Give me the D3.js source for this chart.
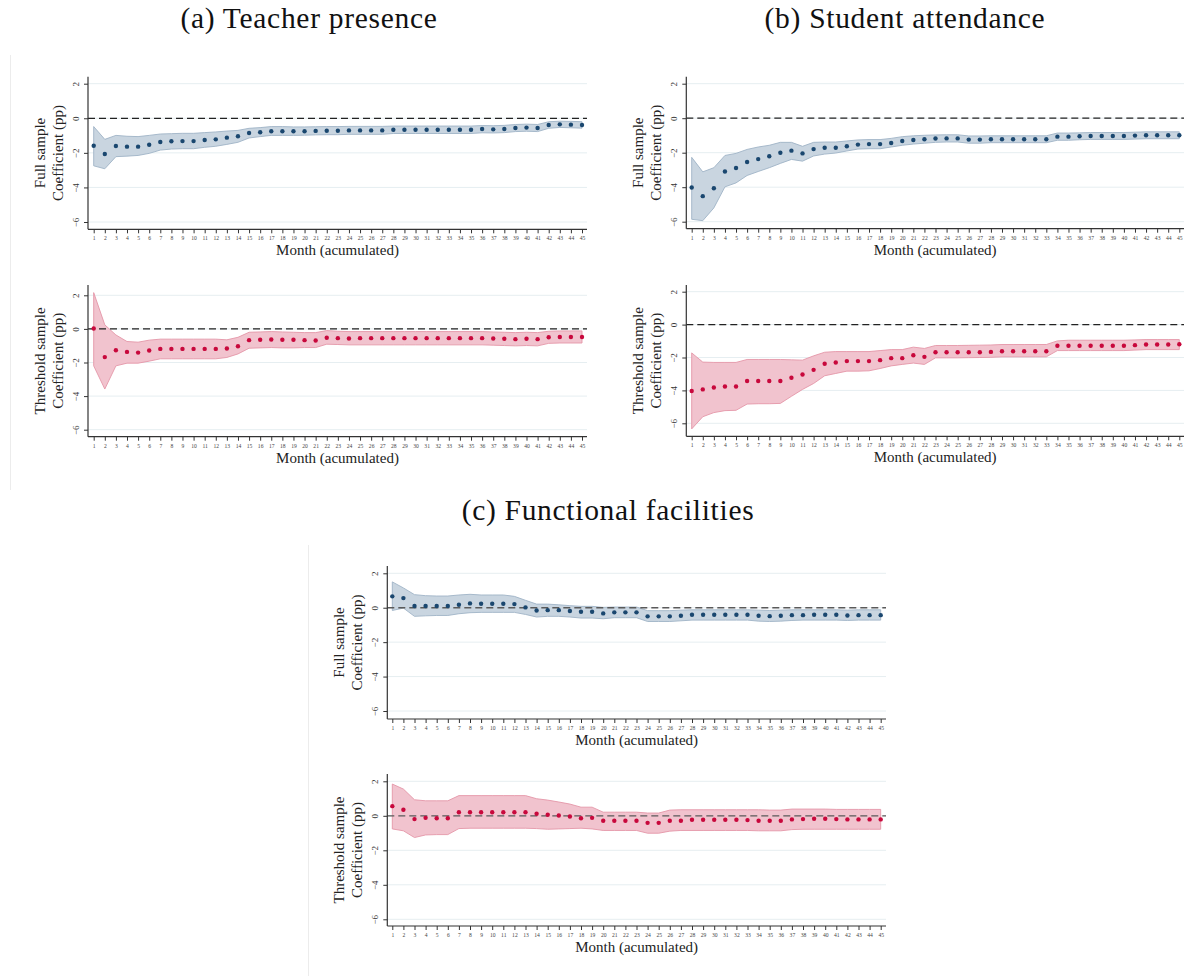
<!DOCTYPE html>
<html>
<head>
<meta charset="utf-8">
<script src="https://cdn.jsdelivr.net/npm/d3@7"></script>
<style>
  html, body { margin: 0; padding: 0; background: #fff; }
  svg { display: block; }
  text { font-family: "Liberation Serif", "Times New Roman", serif; fill: #222; }
</style>
</head>
<body>
<svg id="chart" width="1184" height="976"></svg>
<script>
// Months since start of the program (accumulated)
const months = [1,2,3,4,5,6,7,8,9,10,11,12,13,14,15,16,17,18,19,20,21,22,23,24,25,26,27,28,29,30,31,32,33,34,35,36,37,38,39,40,41,42,43,44,45];
const yTicks = [-6, -4, -2, 0, 2];

const panelTitles = ["(a) Teacher presence", "(b) Student attendance", "(c) Functional facilities"];
const sampleLabels = ["Full sample", "Threshold sample"];
const yAxisTitle = "Coefficient (pp)";
const xAxisTitle = "Month (acumulated)";

// (a) Teacher presence — full sample
const teacherFullEst = [-1.59,-2.07,-1.60,-1.64,-1.64,-1.53,-1.37,-1.33,-1.32,-1.32,-1.26,-1.22,-1.12,-1.04,-0.85,-0.81,-0.75,-0.75,-0.75,-0.75,-0.73,-0.72,-0.72,-0.70,-0.70,-0.70,-0.70,-0.66,-0.66,-0.66,-0.66,-0.66,-0.66,-0.66,-0.66,-0.62,-0.64,-0.62,-0.56,-0.54,-0.56,-0.39,-0.35,-0.37,-0.39];
const teacherFullHi  = [-0.48,-1.22,-0.99,-1.04,-1.06,-0.99,-0.91,-0.89,-0.87,-0.87,-0.83,-0.79,-0.74,-0.70,-0.58,-0.54,-0.48,-0.48,-0.50,-0.50,-0.49,-0.48,-0.48,-0.47,-0.47,-0.47,-0.47,-0.45,-0.45,-0.45,-0.45,-0.45,-0.45,-0.45,-0.45,-0.42,-0.43,-0.41,-0.36,-0.34,-0.36,-0.20,-0.17,-0.18,-0.20];
const teacherFullLo  = [-2.75,-2.92,-2.22,-2.19,-2.15,-2.03,-1.84,-1.78,-1.76,-1.76,-1.68,-1.62,-1.51,-1.39,-1.14,-1.06,-0.99,-0.99,-0.99,-0.98,-0.96,-0.95,-0.95,-0.93,-0.93,-0.93,-0.93,-0.88,-0.88,-0.88,-0.88,-0.88,-0.88,-0.88,-0.88,-0.84,-0.85,-0.83,-0.77,-0.75,-0.77,-0.58,-0.53,-0.55,-0.57];

// (a) Teacher presence — threshold sample
const teacherThrEst = [0.02,-1.68,-1.27,-1.37,-1.41,-1.29,-1.19,-1.19,-1.19,-1.19,-1.19,-1.19,-1.17,-1.03,-0.67,-0.65,-0.63,-0.65,-0.65,-0.67,-0.69,-0.53,-0.55,-0.57,-0.55,-0.55,-0.55,-0.55,-0.55,-0.55,-0.55,-0.55,-0.55,-0.55,-0.55,-0.55,-0.57,-0.59,-0.61,-0.59,-0.61,-0.50,-0.48,-0.48,-0.48];
const teacherThrHi  = [2.16,0.24,-0.36,-0.75,-0.79,-0.67,-0.61,-0.61,-0.61,-0.61,-0.61,-0.61,-0.65,-0.50,-0.20,-0.18,-0.16,-0.18,-0.20,-0.22,-0.22,-0.10,-0.14,-0.16,-0.16,-0.16,-0.16,-0.16,-0.16,-0.16,-0.16,-0.16,-0.16,-0.16,-0.16,-0.16,-0.18,-0.20,-0.22,-0.20,-0.22,-0.14,-0.12,-0.12,-0.12];
const teacherThrLo  = [-2.20,-3.58,-2.20,-2.04,-2.04,-1.92,-1.78,-1.78,-1.78,-1.78,-1.78,-1.78,-1.70,-1.49,-1.15,-1.13,-1.11,-1.13,-1.13,-1.11,-1.11,-0.91,-0.93,-0.95,-0.95,-0.95,-0.95,-0.95,-0.95,-0.95,-0.95,-0.95,-0.95,-0.95,-0.95,-0.95,-0.97,-0.99,-1.01,-0.99,-1.01,-0.86,-0.84,-0.84,-0.84];

// (b) Student attendance — full sample
const studentFullEst = [-4.02,-4.52,-4.06,-3.09,-2.89,-2.54,-2.37,-2.21,-2.00,-1.88,-2.04,-1.79,-1.71,-1.71,-1.63,-1.53,-1.50,-1.50,-1.44,-1.32,-1.26,-1.22,-1.18,-1.17,-1.17,-1.24,-1.24,-1.22,-1.22,-1.22,-1.22,-1.22,-1.22,-1.07,-1.07,-1.05,-1.03,-1.03,-1.03,-1.03,-1.01,-0.99,-0.99,-0.99,-0.99];
const studentFullHi  = [-2.27,-3.11,-2.87,-2.16,-2.04,-1.81,-1.67,-1.57,-1.40,-1.40,-1.63,-1.40,-1.38,-1.38,-1.32,-1.26,-1.24,-1.24,-1.17,-1.07,-1.02,-0.99,-0.97,-0.96,-0.96,-1.03,-1.03,-1.02,-1.02,-1.02,-1.02,-1.02,-1.02,-0.86,-0.86,-0.85,-0.83,-0.83,-0.83,-0.83,-0.81,-0.79,-0.79,-0.79,-0.79];
const studentFullLo  = [-5.86,-5.94,-5.20,-3.98,-3.75,-3.32,-3.09,-2.87,-2.62,-2.39,-2.49,-2.19,-2.08,-2.02,-1.90,-1.79,-1.77,-1.77,-1.67,-1.57,-1.50,-1.45,-1.40,-1.38,-1.38,-1.45,-1.45,-1.42,-1.42,-1.42,-1.42,-1.42,-1.42,-1.28,-1.28,-1.25,-1.23,-1.23,-1.23,-1.23,-1.21,-1.19,-1.19,-1.19,-1.19];

// (b) Student attendance — threshold sample
const studentThrEst = [-4.04,-3.94,-3.82,-3.76,-3.76,-3.43,-3.43,-3.43,-3.43,-3.23,-3.03,-2.75,-2.38,-2.30,-2.22,-2.22,-2.22,-2.16,-2.04,-2.04,-1.86,-1.96,-1.68,-1.68,-1.68,-1.68,-1.68,-1.66,-1.62,-1.62,-1.62,-1.62,-1.62,-1.29,-1.29,-1.29,-1.29,-1.29,-1.29,-1.29,-1.25,-1.21,-1.21,-1.21,-1.19];
const studentThrHi  = [-1.72,-2.28,-2.30,-2.30,-2.30,-2.12,-2.12,-2.12,-2.12,-2.14,-2.16,-1.90,-1.68,-1.64,-1.64,-1.64,-1.64,-1.58,-1.52,-1.52,-1.37,-1.45,-1.27,-1.27,-1.27,-1.26,-1.25,-1.24,-1.21,-1.21,-1.21,-1.21,-1.21,-0.99,-0.95,-0.95,-0.95,-0.95,-0.95,-0.95,-0.93,-0.91,-0.91,-0.91,-0.91];
const studentThrLo  = [-6.34,-5.60,-5.35,-5.23,-5.21,-4.83,-4.81,-4.81,-4.79,-4.36,-3.94,-3.58,-3.11,-2.97,-2.83,-2.83,-2.81,-2.67,-2.51,-2.42,-2.34,-2.42,-2.02,-2.02,-2.02,-2.01,-2.00,-1.99,-1.96,-1.96,-1.96,-1.96,-1.96,-1.58,-1.58,-1.58,-1.58,-1.58,-1.58,-1.58,-1.55,-1.52,-1.52,-1.52,-1.52];

// (c) Functional facilities — full sample
const facilFullEst = [0.66,0.56,0.10,0.10,0.10,0.10,0.17,0.25,0.23,0.23,0.23,0.21,0.02,-0.16,-0.14,-0.14,-0.19,-0.23,-0.23,-0.33,-0.27,-0.27,-0.27,-0.50,-0.50,-0.50,-0.47,-0.41,-0.41,-0.41,-0.41,-0.41,-0.41,-0.47,-0.49,-0.47,-0.43,-0.43,-0.41,-0.41,-0.41,-0.45,-0.43,-0.43,-0.43];
const facilFullHi  = [1.50,1.15,0.76,0.70,0.68,0.68,0.74,0.78,0.74,0.74,0.74,0.66,0.43,0.21,0.21,0.17,0.12,0.08,0.08,0.02,0.04,0.04,0.04,-0.17,-0.17,-0.17,-0.14,-0.12,-0.12,-0.12,-0.12,-0.12,-0.12,-0.14,-0.16,-0.14,-0.12,-0.12,-0.12,-0.12,-0.12,-0.14,-0.12,-0.12,-0.12];
const facilFullLo  = [-0.16,-0.02,-0.50,-0.47,-0.45,-0.45,-0.35,-0.29,-0.27,-0.27,-0.27,-0.27,-0.39,-0.54,-0.50,-0.50,-0.54,-0.60,-0.60,-0.64,-0.58,-0.58,-0.58,-0.80,-0.80,-0.80,-0.76,-0.72,-0.72,-0.72,-0.72,-0.72,-0.72,-0.78,-0.80,-0.78,-0.74,-0.72,-0.72,-0.72,-0.72,-0.74,-0.72,-0.72,-0.72];

// (c) Functional facilities — threshold sample
const facilThrEst = [0.56,0.35,-0.19,-0.12,-0.14,-0.14,0.21,0.21,0.21,0.21,0.21,0.21,0.21,0.12,0.06,0.02,-0.04,-0.14,-0.12,-0.29,-0.29,-0.29,-0.29,-0.41,-0.41,-0.29,-0.29,-0.23,-0.23,-0.23,-0.23,-0.23,-0.25,-0.29,-0.29,-0.29,-0.21,-0.19,-0.17,-0.17,-0.19,-0.21,-0.21,-0.21,-0.21];
const facilThrHi  = [1.84,1.55,0.93,0.87,0.87,0.87,1.17,1.17,1.17,1.17,1.17,1.17,1.17,0.99,0.91,0.80,0.68,0.50,0.50,0.21,0.21,0.21,0.21,0.16,0.16,0.33,0.35,0.35,0.35,0.35,0.35,0.35,0.35,0.35,0.33,0.33,0.39,0.39,0.39,0.39,0.37,0.37,0.37,0.37,0.37];
const facilThrLo  = [-0.76,-0.87,-1.26,-1.11,-1.09,-1.09,-0.74,-0.72,-0.72,-0.72,-0.72,-0.72,-0.72,-0.74,-0.78,-0.76,-0.74,-0.72,-0.76,-0.85,-0.85,-0.85,-0.85,-1.01,-1.01,-0.89,-0.85,-0.85,-0.85,-0.85,-0.85,-0.85,-0.85,-0.87,-0.87,-0.87,-0.80,-0.78,-0.78,-0.78,-0.78,-0.78,-0.78,-0.78,-0.78];

// Styles for the two samples
const styles = {
  full:      { dot: "#1a476f", fill: "#c9d5e0", edge: "#9fb3c6" },
  threshold: { dot: "#c8083c", fill: "#f1c3ce", edge: "#e496a8" }
};

// Panel layout: axis position and pixel placement of y = 2 and y = -6
const panels = [
  { est: teacherFullEst, lo: teacherFullLo, hi: teacherFullHi, kind: "full", label: sampleLabels[0],
    axisX: 88, xFirst: 93.7, xLast: 582, xEnd: 587, y2: 83.7, yM6: 222, yTop: 76.7, yBot: 229.3, zero: "#222" },
  { est: teacherThrEst, lo: teacherThrLo, hi: teacherThrHi, kind: "threshold", label: sampleLabels[1],
    axisX: 88, xFirst: 93.7, xLast: 582, xEnd: 587, y2: 295.3, yM6: 429.7, yTop: 285, yBot: 436.7, zero: "#222" },
  { est: studentFullEst, lo: studentFullLo, hi: studentFullHi, kind: "full", label: sampleLabels[0],
    axisX: 686.3, xFirst: 691.7, xLast: 1179.3, xEnd: 1184, y2: 83.7, yM6: 221.7, yTop: 76.7, yBot: 228.7, zero: "#222" },
  { est: studentThrEst, lo: studentThrLo, hi: studentThrHi, kind: "threshold", label: sampleLabels[1],
    axisX: 686.3, xFirst: 691.7, xLast: 1179.3, xEnd: 1184, y2: 291.7, yM6: 423.3, yTop: 285, yBot: 436.3, zero: "#222" },
  { est: facilFullEst, lo: facilFullLo, hi: facilFullHi, kind: "full", label: sampleLabels[0],
    axisX: 387.3, xFirst: 392.3, xLast: 880.7, xEnd: 886, y2: 573.3, yM6: 711, yTop: 566, yBot: 719, zero: "#5a5a5a" },
  { est: facilThrEst, lo: facilThrLo, hi: facilThrHi, kind: "threshold", label: sampleLabels[1],
    axisX: 387.3, xFirst: 392.3, xLast: 880.7, xEnd: 886, y2: 781.3, yM6: 919.3, yTop: 774, yBot: 926, zero: "#5a5a5a" }
];

const svg = d3.select("#chart");

// Light frames of the graph regions
svg.append("line").attr("x1", 10.5).attr("x2", 10.5).attr("y1", 55).attr("y2", 490)
  .attr("stroke", "#ececec").attr("stroke-width", 1);
svg.append("line").attr("x1", 308.5).attr("x2", 308.5).attr("y1", 545).attr("y2", 976)
  .attr("stroke", "#ececec").attr("stroke-width", 1);

// Panel titles
const titlePos = [[309, 28], [905, 28], [608, 520]];
panelTitles.forEach((t, i) => {
  svg.append("text")
    .attr("x", titlePos[i][0]).attr("y", titlePos[i][1])
    .attr("text-anchor", "middle")
    .style("font-size", "29.5px").style("letter-spacing", "0.7px")
    .style("fill", "#111")
    .text(t);
});

panels.forEach(p => {
  const g = svg.append("g");
  const x = d3.scaleLinear().domain([months[0], months[months.length - 1]]).range([p.xFirst, p.xLast]);
  const y = d3.scaleLinear().domain([-6, 2]).range([p.yM6, p.y2]);
  const st = styles[p.kind];
  const rows = months.map((m, i) => ({ m, est: p.est[i], lo: p.lo[i], hi: p.hi[i] }));

  // Horizontal gridlines
  g.selectAll("line.grid").data(yTicks).join("line")
    .attr("class", "grid")
    .attr("x1", p.axisX).attr("x2", p.xEnd)
    .attr("y1", d => y(d)).attr("y2", d => y(d))
    .attr("stroke", "#e6eef1").attr("stroke-width", 1);

  // Confidence band
  const area = d3.area().x(d => x(d.m)).y0(d => y(d.lo)).y1(d => y(d.hi));
  g.append("path").datum(rows)
    .attr("d", area)
    .attr("fill", st.fill).attr("stroke", st.edge).attr("stroke-width", 0.9);

  // Zero reference line
  g.append("line")
    .attr("x1", p.axisX).attr("x2", p.xEnd)
    .attr("y1", y(0)).attr("y2", y(0))
    .attr("stroke", p.zero).attr("stroke-width", 1.3)
    .attr("stroke-dasharray", "7,4");

  // Point estimates
  g.selectAll("circle").data(rows).join("circle")
    .attr("cx", d => x(d.m)).attr("cy", d => y(d.est))
    .attr("r", 2.2).attr("fill", st.dot);

  // Y axis
  const yAxis = d3.axisLeft(y).tickValues(yTicks).tickSize(4).tickSizeOuter(0).tickFormat(d3.format("d"));
  const ya = g.append("g").attr("transform", `translate(${p.axisX},0)`).call(yAxis);
  ya.select(".domain").attr("d", `M0,${p.yTop}V${p.yBot}`).attr("stroke", "#333").attr("stroke-width", 1.2);
  ya.selectAll(".tick line").attr("stroke", "#333");
  ya.selectAll(".tick text")
    .attr("x", null).attr("dy", "0")
    .attr("transform", "translate(-9,0) rotate(-90)")
    .attr("text-anchor", "middle")
    .style("font-family", "'Liberation Serif', serif")
    .style("font-size", "9px").style("fill", "#333");

  // X axis
  const xAxis = d3.axisBottom(x).tickValues(months).tickSize(4).tickSizeOuter(0).tickFormat(d3.format("d"));
  const xa = g.append("g").attr("transform", `translate(0,${p.yBot})`).call(xAxis);
  xa.select(".domain").attr("d", `M${p.axisX},0H${p.xEnd}`).attr("stroke", "#333").attr("stroke-width", 1.2);
  xa.selectAll(".tick line").attr("stroke", "#333");
  xa.selectAll(".tick text")
    .attr("y", 7).attr("dy", "0.71em")
    .style("font-family", "'Liberation Serif', serif")
    .style("font-size", "5.6px").style("fill", "#444");

  // X axis title
  g.append("text")
    .attr("x", (p.axisX + p.xEnd) / 2).attr("y", p.yBot + 26)
    .attr("text-anchor", "middle")
    .style("font-size", "15px")
    .text(xAxisTitle);

  // Y axis title (two lines)
  const cy = (p.yTop + p.yBot) / 2;
  const yt = g.append("text")
    .attr("transform", `translate(${p.axisX},${cy}) rotate(-90)`)
    .attr("text-anchor", "middle")
    .style("font-size", "15px");
  yt.append("tspan").attr("x", 0).attr("y", -43).text(p.label);
  yt.append("tspan").attr("x", 0).attr("y", -25).text(yAxisTitle);
});
</script>
</body>
</html>
